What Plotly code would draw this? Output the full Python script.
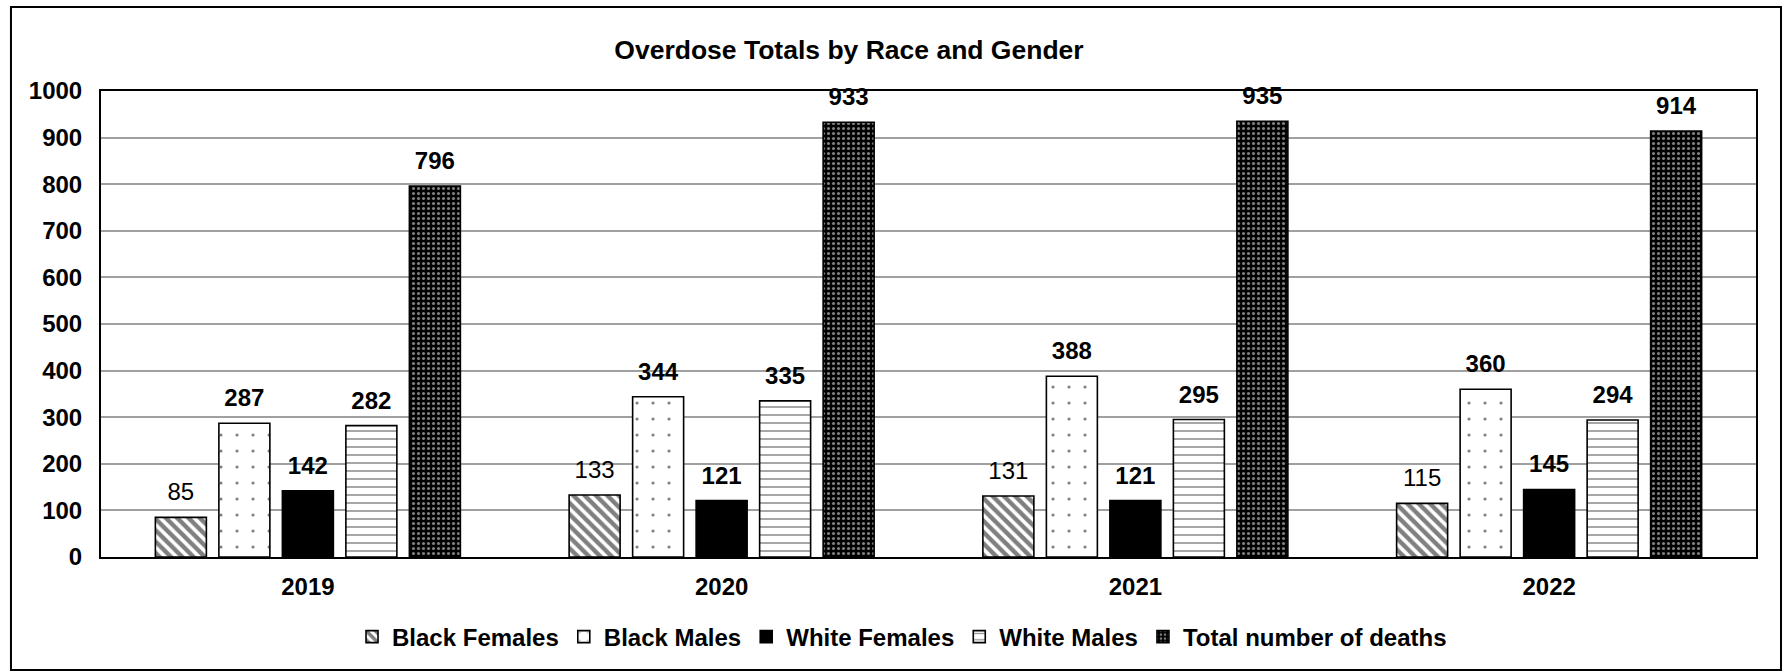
import plotly.graph_objects as go

years = ["2019", "2020", "2021", "2022"]
black_females = [85, 133, 131, 115]
black_males = [287, 344, 388, 360]
white_females = [142, 121, 121, 145]
white_males = [282, 335, 295, 294]
total_deaths = [796, 933, 935, 914]

series_names = ["Black Females", "Black Males", "White Females", "White Males", "Total number of deaths"]
series_values = [black_females, black_males, white_females, white_males, total_deaths]

FONT = "Liberation Sans, Arial, sans-serif"

patterns = [
    dict(shape="\\", size=8, solidity=0.55, fgcolor="black", bgcolor="white"),
    dict(shape=".", size=16, solidity=0.03, fgcolor="black", bgcolor="white"),
    dict(shape="", fgcolor="black", bgcolor="black"),
    dict(shape="-", size=8, solidity=0.2, fgcolor="#222", bgcolor="white"),
    dict(shape=".", size=5, solidity=0.3, fgcolor="white", bgcolor="black"),
]
base_colors = ["white", "white", "black", "white", "black"]
label_weights = ["normal", "bold", "bold", "bold", "bold"]

BARGAP = 0.2326

fig = go.Figure()
for i, (name, vals) in enumerate(zip(series_names, series_values)):
    fig.add_trace(go.Bar(
        x=years, y=vals, name=name,
        marker=dict(color=base_colors[i], pattern=patterns[i],
                    line=dict(color="black", width=1.6)),
        hoverinfo="skip",
    ))

for i, (name, vals) in enumerate(zip(series_names, series_values)):
    fig.add_trace(go.Scatter(
        x=years, y=vals, mode="markers+text",
        text=[str(v) for v in vals], textposition="top center",
        textfont=dict(family=FONT, size=24, color="black", weight=label_weights[i]),
        marker=dict(size=16, opacity=0),
        showlegend=False, hoverinfo="skip", cliponaxis=False,
    ))

fig.update_layout(
    width=1790, height=672,
    margin=dict(l=101, r=34, t=91, b=115),
    paper_bgcolor="white", plot_bgcolor="white",
    barmode="group", bargap=BARGAP, bargroupgap=0.197,
    scattermode="group", scattergap=BARGAP,
    font=dict(family=FONT, color="black"),
    title=dict(text="<b>Overdose Totals by Race and Gender</b>",
               font=dict(family=FONT, size=26.5, color="black"),
               x=849 / 1790, xanchor="center", xref="container",
               y=1 - 50 / 672, yanchor="middle", yref="container"),
    legend=dict(orientation="h", x=0.484, xanchor="center", y=-0.1717, yanchor="middle",
                font=dict(family=FONT, size=24, color="black", weight="bold"),
                bgcolor="rgba(0,0,0,0)", itemclick=False, itemdoubleclick=False),
    showlegend=True,
)

fig.update_xaxes(type="category", showline=True, linecolor="black", linewidth=2, mirror=True,
                 tickfont=dict(family=FONT, size=24, color="black", weight="bold"),
                 ticks="", ticklabelstandoff=7, showgrid=False)
fig.update_yaxes(range=[0, 1000], dtick=100, tick0=0, showline=True, linecolor="black",
                 linewidth=2, mirror=True, showgrid=True, gridcolor="#a0a0a0", gridwidth=1.5,
                 tickfont=dict(family=FONT, size=24, color="black", weight="bold"),
                 ticks="", ticklabelstandoff=12, zeroline=False)

fig.add_shape(type="rect", xref="paper", yref="paper",
              x0=-0.0544, x1=1.0151, y0=-0.2425, y1=1.1803,
              line=dict(color="black", width=2), fillcolor="rgba(0,0,0,0)", layer="above")

fig.write_html("out.html", config={"displayModeBar": False},
               post_script="document.body.style.margin='0';document.body.style.padding='0';")
